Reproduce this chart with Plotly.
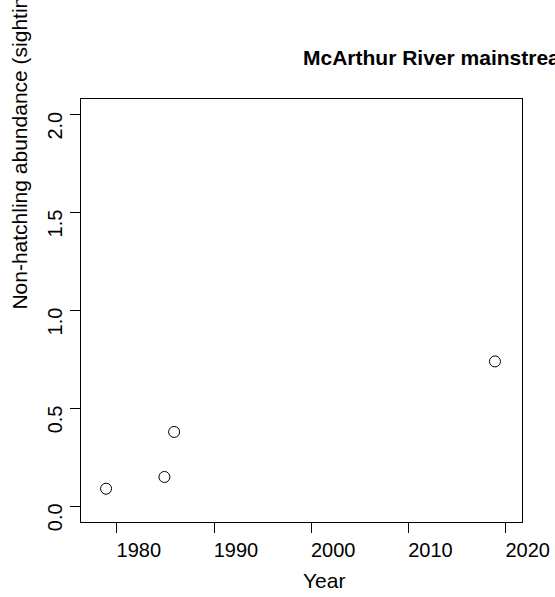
import plotly.graph_objects as go

# ---- data ----
years = [1978.9, 1984.9, 1985.9, 2018.9]
abundance = [0.09, 0.15, 0.38, 0.74]
x_ticks = [1980, 1990, 2000, 2010, 2020]
x_tick_labels = ["1980", "1990", "2000", "2010", "2020"]
y_ticks = [0.0, 0.5, 1.0, 1.5, 2.0]
y_tick_labels = ["0.0", "0.5", "1.0", "1.5", "2.0"]
title_text = "McArthur River mainstream"
y_title = "Non-hatchling abundance (sightings/km)"
x_title = "Year"

FONT = "Liberation Sans, Arial, Helvetica, sans-serif"

W, H = 555, 597
L, R, T, B = 81, 33, 99, 75
PW, PH = W - L - R, H - T - B


def px_x(px):
    return (px - L) / PW


def px_y(py):
    return (H - B - py) / PH


fig = go.Figure()
fig.add_trace(go.Scatter(
    x=years, y=abundance, mode="markers",
    marker=dict(symbol="circle-open", size=11, color="black",
                line=dict(width=1, color="black")),
    showlegend=False, hoverinfo="skip",
))

fig.update_layout(
    width=W, height=H,
    margin=dict(l=L, r=R, t=T, b=B, autoexpand=False),
    paper_bgcolor="white", plot_bgcolor="white",
    font=dict(family=FONT, size=20, color="black"),
    xaxis=dict(
        range=[1976.32, 2021.68], tickvals=x_ticks, ticktext=x_tick_labels,
        ticks="outside", ticklen=10, tickwidth=1, tickcolor="black",
        showline=True, linecolor="black", linewidth=1, mirror=True,
        showgrid=False, zeroline=False, automargin=False,
        tickfont=dict(size=20, family=FONT, color="black"),
        ticklabelshift=22,
    ),
    yaxis=dict(
        range=[-0.08, 2.08], tickvals=y_ticks, ticktext=y_tick_labels,
        ticks="outside", ticklen=10, tickwidth=1, tickcolor="black",
        showline=True, linecolor="black", linewidth=1, mirror=True,
        showgrid=False, zeroline=False, tickangle=-90, automargin=False,
        tickfont=dict(size=20, family=FONT, color="black"),
        ticklabelshift=14,
    ),
    annotations=[
        dict(text="<b>" + title_text + "</b>", xref="paper", yref="paper",
             x=px_x(300.7), y=px_y(70.5),
             xanchor="left", yanchor="bottom", showarrow=False,
             font=dict(size=21, family=FONT, color="black")),
        dict(text=x_title, xref="paper", yref="paper",
             x=px_x(301.3), y=px_y(566.7), xanchor="left", yanchor="top",
             showarrow=False, font=dict(size=21, family=FONT, color="black")),
        dict(text=y_title, xref="paper", yref="paper",
             x=px_x(20), y=px_y(311.6),
             xanchor="center", yanchor="bottom", textangle=-90,
             showarrow=False, font=dict(size=21, family=FONT, color="black")),
    ],
)

fig.write_html("out.html")
